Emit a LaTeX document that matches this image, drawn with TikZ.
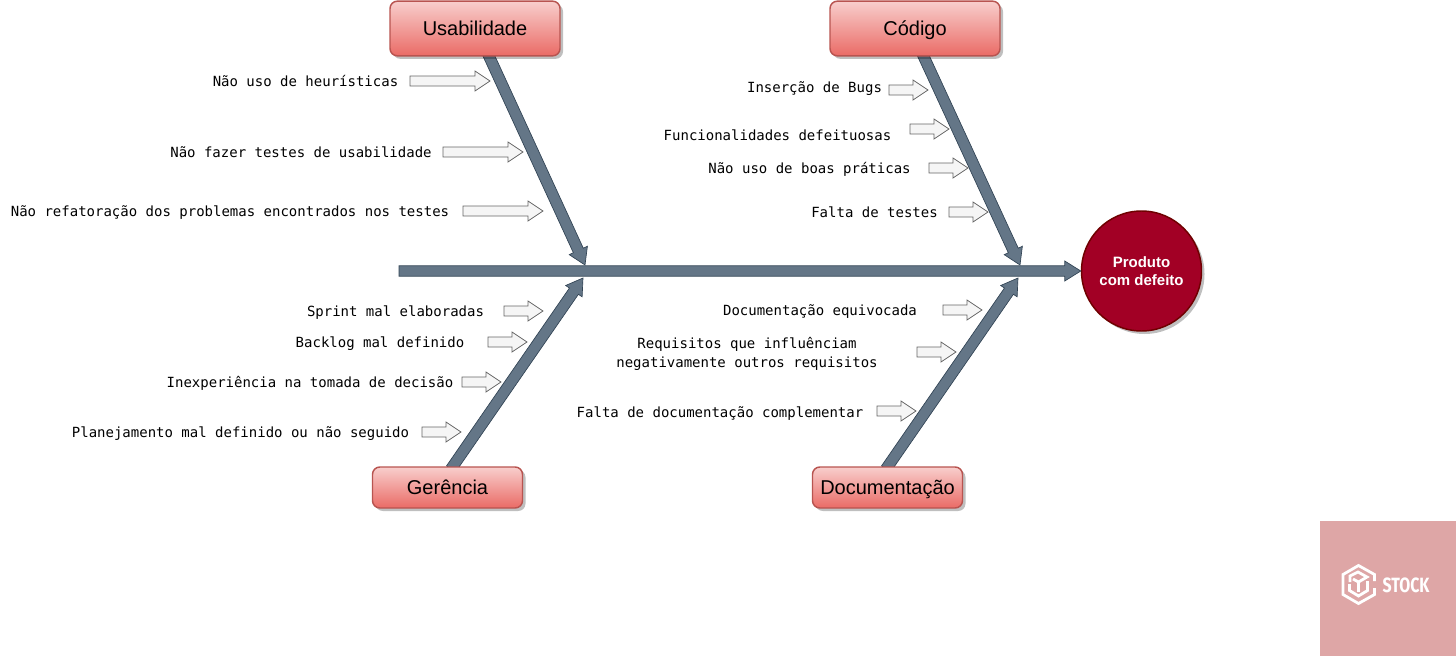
\documentclass[tikz,border=0pt]{standalone}
\usepackage{fontspec}
\setmainfont{Liberation Sans}
\newfontfamily\labelfont{DejaVu Sans Mono}
\newfontfamily\logofont{Fira Sans}
\usetikzlibrary{calc,shadows,backgrounds}
\definecolor{ribfill}{HTML}{647687}
\definecolor{ribline}{HTML}{314354}
\definecolor{boxtop}{HTML}{F8CECC}
\definecolor{boxbot}{HTML}{EA6B66}
\definecolor{boxline}{HTML}{B85450}
\definecolor{circfill}{HTML}{A20025}
\definecolor{circline}{HTML}{6F0000}
\definecolor{logobg}{HTML}{DEA6A6}
\definecolor{smallline}{HTML}{666666}
\definecolor{smallfill}{HTML}{F5F5F5}
\tikzset{
  boxnode/.style={draw=boxline,line width=1.1pt,rounded corners=5.5pt,top color=boxtop,bottom color=boxbot,
    font=\fontsize{15}{18}\selectfont,inner sep=0pt,text=black,text height=14pt,text depth=3.5pt,
    drop shadow={shadow xshift=2.25pt,shadow yshift=-2.25pt,fill=black,opacity=.25}},
  tallbox/.style={boxnode,minimum width=127.5pt,minimum height=41pt},
  lowbox/.style={boxnode,minimum width=112.5pt,minimum height=30.75pt},
  causelabel/.style={font=\labelfont\fontsize{10.5}{14.25}\selectfont,inner sep=0pt,text=black,align=center,
    yshift=-1.5pt,execute at begin node=\strut},
  ribshape/.style={draw=ribline,fill=ribfill,line width=.5pt,line join=miter},
  smallshape/.style={draw=smallline,fill=smallfill,line width=.6pt,line join=miter},
}
% #1 start, #2 end, #3 half body width, #4 half head width, #5 head length, #6 style
\newcommand{\blockarrow}[6]{%
  \coordinate (ba) at ($(#2)!#5!(#1)$);
  \draw[#6] ($(#1)!#3!90:(#2)$) -- ($(ba)!#3!90:(#2)$) -- ($(ba)!#4!90:(#2)$) -- (#2)
    -- ($(ba)!#4!-90:(#2)$) -- ($(ba)!#3!-90:(#2)$) -- ($(#1)!#3!-90:(#2)$) -- cycle;
}
% #1 name, #2 x1, #3 x2, #4 y
\newcommand{\pointer}[4]{%
  \coordinate (#1a) at (#2,#4);
  \coordinate (#1b) at (#3,#4);
  \blockarrow{#1a}{#1b}{3.75pt}{7.5pt}{11.25pt}{smallshape}
}
\begin{document}
\begin{tikzpicture}[x=.75pt,y=-.75pt]
\useasboundingbox (0,0) rectangle (1456,657);

\node[tallbox] (usab) at (475,28.5) {Usabilidade};
\node[tallbox] (cod) at (915,28.5) {Código};
\node[lowbox] (ger) at (447.5,487.5) {Gerência};
\node[lowbox] (doc) at (887.5,487.5) {Documentação};
\node[circle,draw=circline,fill=circfill,line width=1.1pt,minimum size=90pt,inner sep=0pt,text=white,
  align=center,font=\bfseries\fontsize{11.25}{13.5}\selectfont,
  drop shadow={shadow xshift=2.25pt,shadow yshift=-2.25pt,fill=black,opacity=.25}] (prod) at (1141.5,271) {Produto\\com defeito};

\coordinate (spine) at (399,271);
\coordinate (usabtip) at (585,265);
\coordinate (codtip) at (1020,265);
\coordinate (gertip) at (583,278);
\coordinate (doctip) at (1018,278);
\coordinate (usabroot) at (488,54);
\coordinate (codroot) at (922.5,54);
\coordinate (gerroot) at (451,469);
\coordinate (docroot) at (886,469);

\begin{scope}[on background layer]
\blockarrow{usabroot}{usabtip}{4.1pt}{7.5pt}{12pt}{ribshape}
\blockarrow{codroot}{codtip}{4.1pt}{7.5pt}{12pt}{ribshape}
\blockarrow{gerroot}{gertip}{4.1pt}{7.5pt}{12pt}{ribshape}
\blockarrow{docroot}{doctip}{4.1pt}{7.5pt}{12pt}{ribshape}
\end{scope}
\blockarrow{spine}{prod.west}{3.9pt}{7.5pt}{12pt}{ribshape}

\node[causelabel] (l1) at (305.5,81) {Não uso de heurísticas};
\node[causelabel] (l2) at (301,152) {Não fazer testes de usabilidade};
\node[causelabel] (l3) at (230,211) {Não refatoração dos problemas encontrados nos testes};
\node[causelabel] (l4) at (814.5,87) {Inserção de Bugs};
\node[causelabel] (l5) at (777.5,135) {Funcionalidades defeituosas};
\node[causelabel] (l6) at (809.5,168) {Não uso de boas práticas};
\node[causelabel] (l7) at (874.5,212) {Falta de testes};
\node[causelabel] (l8) at (395.5,311) {Sprint mal elaboradas};
\node[causelabel] (l9) at (380,342) {Backlog mal definido};
\node[causelabel] (l10) at (310,382) {Inexperiência na tomada de decisão};
\node[causelabel] (l11) at (240.5,432) {Planejamento mal definido ou não seguido};
\node[causelabel] (l12) at (820,310) {Documentação equivocada};
\node[causelabel] (l13) at (747,352.5) {Requisitos que influênciam\strut\\\strut negativamente outros requisitos\strut};
\node[causelabel] (l14) at (720,412) {Falta de documentação complementar};

\pointer{pa}{410}{490}{81}
\pointer{pb}{443}{523}{152}
\pointer{pc}{463}{543}{211}
\pointer{pd}{889}{928}{90}
\pointer{pe}{910}{949}{129}
\pointer{pf}{929}{968}{168}
\pointer{pg}{949}{988}{212}
\pointer{ph}{504}{543}{311}
\pointer{pi}{488}{527}{342}
\pointer{pj}{462}{501}{382}
\pointer{pk}{422}{461}{432}
\pointer{pl}{943}{982}{310}
\pointer{pm}{917}{956}{352}
\pointer{pn}{877}{916}{411}

% watermark
\fill[logobg] (1320,521) rectangle (1456,656);
\begin{scope}[white,line width=2.1pt,line join=miter]
\draw (1374.5,581) -- (1374.5,574.5) -- (1358.5,565.5) -- (1343,574.5) -- (1343,594.5) -- (1358.5,603.5) -- (1374.5,594.5) -- (1374.5,588);
\draw (1350,582) -- (1350,576) -- (1358,572) -- (1367,577) -- (1358.5,582) -- (1353,579);
\draw (1349.5,584) -- (1349.5,590.5) -- (1358.5,596) -- (1367.5,590.5) -- (1367.5,581);
\draw (1358.5,582) -- (1358.5,592);
\end{scope}
\node[text=white,inner sep=0pt,font=\logofont\bfseries\fontsize{15.5}{17}\selectfont,xscale=.77] (stock) at (1406,585) {STOCK};
\end{tikzpicture}
\end{document}
